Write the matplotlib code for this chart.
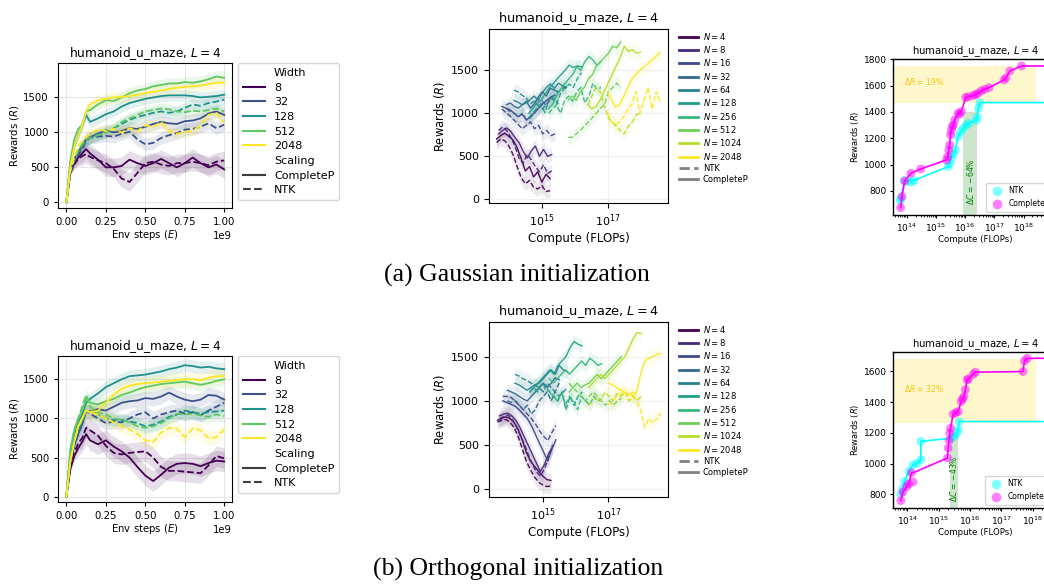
import numpy as np
import matplotlib
matplotlib.use("Agg")
import matplotlib.pyplot as plt
from matplotlib.lines import Line2D
from matplotlib import ticker

plt.rcParams['font.family'] = ['DejaVu Sans']
plt.rcParams['mathtext.fontset'] = 'dejavusans'

W, H = 1044, 584
fig = plt.figure(figsize=(W / 100, H / 100), dpi=100)


def px_box(l, t, r, b):
    return [l / W, 1 - b / H, (r - l) / W, (b - t) / H]


TITLE = r'humanoid_u_maze, $L = 4$'

# ---------------------------------------------------------------- data: left panels
widths = [8, 32, 128, 512, 2048]
width_colors = ['#440154', '#3b528b', '#21918c', '#5ec962', '#fde725']
env_steps_e9 = [0, .025, .05, .075, .1, .125, .15, .2, .25, .3, .35, .4, .45, .5,
                .55, .6, .65, .7, .75, .8, .85, .9, .95, 1.0]

gauss_cp = [
    [0, 430, 560, 640, 700, 760, 700, 610, 500, 500, 520, 610, 560, 520, 560, 620, 560, 500, 560, 640, 560, 500, 540, 470],
    [0, 450, 620, 720, 800, 900, 930, 980, 1030, 1000, 1020, 1060, 1050, 1080, 1120, 1150, 1130, 1120, 1160, 1170, 1200, 1270, 1300, 1250],
    [0, 550, 800, 950, 1100, 1250, 1150, 1200, 1260, 1300, 1370, 1420, 1450, 1480, 1500, 1520, 1530, 1530, 1530, 1520, 1500, 1510, 1520, 1540],
    [0, 600, 900, 1050, 1100, 1300, 1320, 1400, 1460, 1450, 1500, 1560, 1600, 1620, 1660, 1680, 1700, 1700, 1720, 1710, 1730, 1760, 1800, 1780],
    [0, 500, 800, 950, 1100, 1300, 1400, 1460, 1480, 1500, 1510, 1520, 1540, 1560, 1580, 1600, 1620, 1640, 1650, 1660, 1670, 1690, 1710, 1710],
]
gauss_ntk = [
    [0, 420, 540, 620, 660, 690, 650, 600, 560, 480, 340, 290, 420, 560, 580, 540, 520, 560, 560, 580, 560, 530, 580, 600],
    [0, 420, 580, 680, 760, 880, 920, 940, 950, 940, 980, 1010, 900, 830, 850, 920, 960, 990, 1040, 1050, 1080, 1130, 1060, 1110],
    [0, 450, 620, 720, 800, 880, 920, 960, 1000, 1060, 1120, 1180, 1220, 1250, 1280, 1300, 1280, 1300, 1350, 1400, 1380, 1420, 1440, 1470],
    [0, 450, 620, 740, 830, 900, 920, 960, 1000, 1060, 1150, 1200, 1250, 1300, 1320, 1340, 1330, 1300, 1290, 1310, 1300, 1320, 1340, 1300],
    [0, 450, 650, 800, 880, 930, 980, 1040, 1020, 1050, 1000, 1060, 1020, 1100, 1080, 1150, 1020, 980, 1000, 1020, 1100, 1250, 1280, 1140],
]
gauss_band = [130, 90, 80, 80, 80]

orth_cp = [
    [0, 350, 520, 620, 700, 800, 720, 670, 720, 640, 580, 500, 380, 270, 200, 280, 370, 420, 430, 420, 390, 430, 460, 450],
    [0, 450, 650, 800, 920, 1100, 1080, 1120, 1100, 1150, 1200, 1220, 1230, 1260, 1250, 1280, 1330, 1280, 1240, 1220, 1240, 1300, 1290, 1240],
    [0, 550, 800, 950, 1050, 1200, 1250, 1320, 1400, 1450, 1500, 1540, 1550, 1560, 1580, 1600, 1630, 1650, 1680, 1670, 1650, 1660, 1640, 1630],
    [0, 600, 850, 1000, 1100, 1250, 1200, 1180, 1220, 1250, 1300, 1330, 1370, 1400, 1420, 1440, 1450, 1460, 1470, 1450, 1430, 1450, 1480, 1500],
    [0, 450, 700, 900, 1000, 1100, 1080, 1100, 1200, 1300, 1380, 1420, 1440, 1450, 1460, 1470, 1480, 1490, 1500, 1500, 1490, 1520, 1540, 1540],
]
orth_ntk = [
    [0, 380, 560, 680, 750, 880, 850, 780, 650, 560, 540, 560, 570, 580, 500, 380, 330, 330, 320, 310, 300, 400, 520, 490],
    [0, 450, 650, 800, 950, 1100, 1060, 1000, 940, 960, 950, 1000, 1050, 1080, 1000, 1050, 1080, 1100, 1060, 1080, 1040, 1100, 1150, 1200],
    [0, 500, 700, 850, 950, 1080, 1100, 1050, 1000, 980, 980, 960, 940, 900, 920, 960, 1020, 1050, 1100, 1080, 1060, 1080, 1090, 1100],
    [0, 600, 850, 1000, 1150, 1300, 1150, 1080, 1050, 1000, 980, 950, 900, 880, 900, 940, 1000, 1060, 1050, 1060, 1040, 1020, 1050, 1030],
    [0, 450, 700, 900, 1000, 1100, 1080, 1050, 1000, 950, 900, 860, 800, 720, 700, 820, 880, 870, 760, 870, 850, 750, 760, 860],
]
orth_band = [130, 90, 80, 80, 90]

# ---------------------------------------------------------------- data: middle panels
N_values = [4, 8, 16, 32, 64, 128, 256, 512, 1024, 2048]
N_colors = plt.cm.viridis(np.linspace(0, 1, len(N_values)))
compute_log_start = [13.62, 13.68, 13.78, 13.92, 14.15, 14.6, 15.2, 15.8, 16.4, 17.0]
compute_log_end = [15.25, 15.3, 15.4, 15.5, 15.75, 16.2, 16.8, 17.4, 18.0, 18.6]

gauss_mid_cp = [
    [700, 740, 770, 730, 690, 600, 470, 330, 380, 260, 320, 200, 290, 240],
    [760, 800, 830, 790, 720, 660, 560, 480, 560, 620, 500, 580, 500, 520],
    [1080, 1060, 1040, 1000, 960, 990, 920, 960, 1010, 1060, 1110, 1150, 1190, 1210],
    [1100, 1120, 1080, 1060, 1100, 1140, 1060, 1110, 1190, 1250, 1200, 1290, 1270, 1250],
    [1150, 1130, 1100, 1120, 1160, 1200, 1150, 1240, 1300, 1340, 1290, 1350, 1320, 1300],
    [1000, 1060, 1120, 1150, 1220, 1290, 1340, 1400, 1450, 1500, 1560, 1530, 1550, 1540],
    [1050, 1100, 1200, 1280, 1340, 1400, 1450, 1540, 1500, 1600, 1660, 1620, 1560, 1600],
    [1150, 1200, 1150, 1250, 1300, 1400, 1450, 1550, 1600, 1650, 1700, 1780, 1760, 1830],
    [1100, 1050, 1080, 1150, 1250, 1350, 1450, 1550, 1650, 1780, 1720, 1740, 1700, 1710],
    [1250, 1150, 1070, 1100, 1200, 1300, 1400, 1450, 1500, 1540, 1580, 1620, 1660, 1710],
]
gauss_mid_ntk = [
    [660, 700, 680, 620, 520, 380, 250, 180, 220, 140, 120, 160, 90, 100],
    [800, 840, 800, 720, 620, 480, 420, 520, 460, 380, 320, 400, 300, 330],
    [1050, 1010, 970, 920, 870, 820, 860, 900, 820, 860, 760, 800, 740, 760],
    [1050, 1020, 1000, 960, 1000, 930, 950, 1000, 1060, 1140, 1090, 1180, 1150, 1110],
    [1270, 1250, 1210, 1180, 1110, 1140, 1090, 1050, 1100, 1160, 1210, 1250, 1290, 1310],
    [950, 1000, 1060, 1100, 1010, 1150, 1200, 1120, 1250, 1290, 1340, 1300, 1400, 1470],
    [1000, 1050, 1100, 1000, 1150, 1200, 1140, 1250, 1300, 1120, 1200, 1350, 1280, 1300],
    [720, 720, 760, 800, 850, 900, 950, 1000, 1060, 1100, 1250, 1300, 1350, 1300],
    [1100, 1200, 1300, 1250, 1100, 950, 900, 850, 800, 760, 850, 900, 980, 1000],
    [1000, 900, 870, 900, 960, 1050, 1100, 1250, 1000, 1150, 1300, 1050, 1250, 1140],
]
orth_mid_cp = [
    [780, 800, 820, 800, 760, 680, 560, 420, 320, 260, 200, 150, 110, 100],
    [830, 850, 860, 830, 780, 700, 600, 500, 400, 300, 200, 280, 400, 480],
    [1000, 980, 960, 940, 900, 850, 800, 720, 620, 520, 420, 320, 450, 560],
    [1120, 1100, 1080, 1050, 1020, 1000, 1050, 1100, 1150, 1200, 1150, 1200, 1260, 1240],
    [1200, 1180, 1150, 1120, 1150, 1180, 1200, 1250, 1300, 1350, 1300, 1400, 1350, 1330],
    [1100, 1150, 1200, 1250, 1300, 1350, 1300, 1400, 1450, 1500, 1600, 1670, 1640, 1620],
    [1250, 1200, 1250, 1300, 1350, 1300, 1350, 1400, 1450, 1400, 1480, 1450, 1400, 1420],
    [1100, 1150, 1200, 1150, 1180, 1200, 1250, 1300, 1250, 1300, 1350, 1400, 1450, 1500],
    [1150, 1200, 1250, 1300, 1250, 1300, 1350, 1400, 1450, 1500, 1600, 1700, 1770, 1760],
    [1200, 1180, 1150, 1120, 1100, 1080, 1060, 1100, 1300, 1450, 1480, 1500, 1520, 1540],
]
orth_mid_ntk = [
    [760, 780, 790, 760, 700, 600, 460, 320, 220, 140, 80, 50, 30, 40],
    [800, 820, 840, 800, 720, 620, 520, 400, 290, 200, 150, 230, 360, 500],
    [1050, 1050, 1040, 1000, 950, 900, 850, 800, 740, 660, 600, 550, 640, 720],
    [1000, 980, 1000, 950, 900, 950, 850, 900, 1000, 1050, 1100, 1000, 1100, 1200],
    [1300, 1280, 1250, 1230, 1200, 1180, 1150, 1100, 1200, 1150, 1100, 1050, 1100, 1150],
    [1100, 1150, 1100, 1200, 1150, 1100, 1050, 1000, 1100, 900, 1050, 950, 1050, 1100],
    [1100, 1050, 1000, 1100, 950, 1050, 1000, 900, 1050, 1000, 950, 1050, 1000, 1020],
    [1200, 1150, 1100, 1050, 1000, 1050, 1100, 1050, 1000, 950, 1000, 950, 1000, 1030],
    [950, 1000, 1050, 1000, 1100, 1050, 1000, 1080, 1050, 1100, 1000, 1050, 1000, 1050],
    [950, 1000, 1050, 1080, 1100, 1050, 1100, 1000, 900, 700, 800, 750, 800, 860],
]
mid_band = 80

# ---------------------------------------------------------------- data: right panels
g_ntk_logc = [13.78, 13.80, 13.92, 14.05, 14.17, 14.25, 15.42, 15.47, 15.53, 15.60, 15.66,
              15.76, 15.85, 15.93, 16.05, 16.12, 16.38, 16.42, 16.45, 16.50]
g_ntk_r = [725, 745, 878, 872, 868, 880, 985, 1010, 1048, 1080, 1111,
           1213, 1250, 1276, 1300, 1314, 1335, 1360, 1428, 1471]
g_cp_logc = [13.79, 13.84, 13.93, 14.14, 14.48, 15.36, 15.40, 15.44, 15.47, 15.50, 15.53,
             15.56, 15.60, 15.64, 15.76, 15.80, 15.87, 16.02, 16.10, 16.27, 16.35, 16.44,
             16.55, 16.67, 16.82, 17.33, 17.40, 17.53, 17.93]
g_cp_r = [673, 757, 876, 934, 967, 1035, 1060, 1110, 1149, 1225, 1260,
          1289, 1300, 1339, 1390, 1380, 1403, 1509, 1515, 1524, 1530, 1542,
          1560, 1572, 1585, 1643, 1660, 1711, 1749]
g_delta_R = (1470, 1751, 18.42, r'$\Delta R$ = 19%')
g_delta_C = (15.94, 16.42, 1400, r'$\Delta C$ = $-$64%')

o_ntk_logc = [13.79, 13.85, 13.91, 14.05, 14.18, 14.30, 14.43, 14.43, 15.40, 15.51, 15.58, 15.62, 15.65]
o_ntk_r = [802, 840, 884, 950, 992, 1000, 1025, 1144, 1165, 1176, 1200, 1219, 1273]
o_cp_logc = [13.79, 13.86, 13.98, 14.04, 14.13, 14.18, 15.28, 15.30, 15.33, 15.35, 15.38, 15.46,
             15.55, 15.62, 15.72, 15.76, 15.81, 15.85, 15.91, 15.95, 16.10, 16.17, 17.69, 17.74, 17.83]
o_cp_r = [759, 815, 850, 867, 940, 880, 1036, 1101, 1150, 1198, 1230, 1321,
          1330, 1338, 1403, 1420, 1436, 1480, 1544, 1550, 1580, 1594, 1598, 1667, 1684]
o_delta_R = (1264, 1682, 18.11, r'$\Delta R$ = 32%')
o_delta_C = (15.36, 15.61, 1197, r'$\Delta C$ = $-$43%')

right_xticks = [1e14, 1e15, 1e16, 1e17, 1e18]


# ---------------------------------------------------------------- drawing helpers
def left_panel(box, cp, ntk, band, ylim, leg_top):
    ax = fig.add_axes(box)
    x = np.array(env_steps_e9) * 1e9
    ramp = np.minimum(1.0, np.array(env_steps_e9) / 0.1)
    for i, w in enumerate(widths):
        c = width_colors[i]
        for vals, ls in ((cp[i], '-'), (ntk[i], '--')):
            v = np.array(vals, float)
            ax.fill_between(x, v - band[i] * ramp, v + band[i] * ramp, color=c, alpha=0.13, lw=0)
            ax.plot(x, v, color=c, ls=ls, lw=1.3)
    ax.set_xlim(-0.053e9, 1.049e9)
    ax.set_ylim(*ylim)
    ax.set_xticks([0, 0.25e9, 0.5e9, 0.75e9, 1.0e9])
    ax.set_yticks([0, 500, 1000, 1500])
    ax.grid(color='#e6e6e6', lw=0.8)
    ax.set_axisbelow(True)
    ax.tick_params(labelsize=7.3, length=3, width=0.8)
    ax.xaxis.get_offset_text().set_fontsize(7.3)
    ax.set_title(TITLE, fontsize=8.7, pad=4)
    ax.set_xlabel(r'Env steps ($E$)', fontsize=7.3, labelpad=1)
    ax.set_ylabel(r'Rewards ($R$)', fontsize=7.3, labelpad=2)
    handles = [Line2D([], [], color='none', label='Width')]
    for i, w in enumerate(widths):
        handles.append(Line2D([], [], color=width_colors[i], lw=1.5, label=str(w)))
    handles.append(Line2D([], [], color='none', label='Scaling'))
    handles.append(Line2D([], [], color='#3d3d3d', lw=1.5, ls='-', label='CompleteP'))
    handles.append(Line2D([], [], color='#3d3d3d', lw=1.5, ls='--', label='NTK'))
    ax.legend(handles=handles, loc='upper left', bbox_to_anchor=(238 / W, 1 - leg_top / H),
              bbox_transform=fig.transFigure, borderaxespad=0, fontsize=8,
              handlelength=2.0, labelspacing=0.42, borderpad=0.45)
    return ax


def mid_panel(box, cp, ntk, xlim, ylim, leg_top):
    ax = fig.add_axes(box)
    ax.set_xscale('log')
    for i, n in enumerate(N_values):
        c = N_colors[i]
        x = np.logspace(compute_log_start[i], compute_log_end[i], len(cp[i]))
        for vals, ls in ((cp[i], '-'), (ntk[i], '--')):
            v = np.array(vals, float)
            ax.fill_between(x, v - mid_band, v + mid_band, color=c, alpha=0.09, lw=0)
            ax.plot(x, v, color=c, ls=ls, lw=1.0, alpha=0.95)
    ax.set_xlim(10 ** xlim[0], 10 ** xlim[1])
    ax.set_ylim(*ylim)
    ax.set_xticks([1e15, 1e17])
    ax.xaxis.set_minor_locator(ticker.NullLocator())
    ax.set_yticks([0, 500, 1000, 1500])
    ax.grid(color='#f0f0f0', lw=0.8)
    ax.set_axisbelow(True)
    ax.tick_params(labelsize=8, length=3.5, width=0.8)
    ax.set_title(TITLE, fontsize=9.3, pad=5)
    ax.set_xlabel('Compute (FLOPs)', fontsize=8.5, labelpad=2)
    ax.set_ylabel(r'Rewards ($R$)', fontsize=8.3, labelpad=3)
    handles = [Line2D([], [], color=N_colors[i], lw=2, label=r'$N = %d$' % n)
               for i, n in enumerate(N_values)]
    handles.append(Line2D([], [], color='#808080', lw=2, ls='--', label='NTK'))
    handles.append(Line2D([], [], color='#808080', lw=2, ls='-', label='CompleteP'))
    ax.legend(handles=handles, loc='upper left', bbox_to_anchor=(677 / W, 1 - leg_top / H),
              bbox_transform=fig.transFigure, borderaxespad=0, fontsize=6, frameon=False,
              handlelength=2.3, handletextpad=0.6, labelspacing=0.28, borderpad=0.2)
    return ax


def frontier(logc, r, xmax):
    order = np.argsort(logc, kind='stable')
    xs = 10 ** np.array(logc, float)[order]
    rs = np.maximum.accumulate(np.array(r, float)[order])
    return np.append(xs, xmax), np.append(rs, rs[-1])


def right_panel(box, ntk_x, ntk_r, cp_x, cp_r, xlim, ylim, yticks, dR, dC, dR_text_y, dC_text_y, leg_xy):
    ax = fig.add_axes(box)
    ax.set_xscale('log')
    x0, x1 = 10 ** xlim[0], 10 ** xlim[1]
    # delta R band
    ax.fill_between([x0, 10 ** dR[2]], dR[0], dR[1], color='#ffd700', alpha=0.2, lw=0, zorder=0)
    ax.text(10 ** 13.9, dR_text_y, dR[3], color='#f2c40f', fontsize=5.5, va='center', ha='left')
    # delta C band
    ax.fill_between([10 ** dC[0], 10 ** dC[1]], ylim[0], dC[2], color='green', alpha=0.2, lw=0, zorder=0)
    ax.text(10 ** ((dC[0] + dC[1]) / 2), dC_text_y, dC[3], color='green', fontsize=5.5,
            rotation=90, va='center', ha='center')
    fx, fr = frontier(ntk_x, ntk_r, x1 * 2)
    ax.plot(fx, fr, color='cyan', lw=1.2, zorder=2)
    fx, fr = frontier(cp_x, cp_r, x1 * 2)
    ax.plot(fx, fr, color='magenta', lw=1.2, zorder=4)
    ax.scatter(10 ** np.array(ntk_x), ntk_r, s=40, color='cyan', alpha=0.5, edgecolors='none', zorder=3)
    ax.scatter(10 ** np.array(cp_x), cp_r, s=40, color='magenta', alpha=0.5, edgecolors='none', zorder=5)
    ax.set_xlim(x0, x1)
    ax.set_ylim(*ylim)
    ax.set_yticks(yticks)
    ax.set_xticks(right_xticks)
    ax.xaxis.set_minor_locator(ticker.LogLocator(base=10, subs=np.arange(2, 10), numticks=20))
    ax.xaxis.set_minor_formatter(ticker.NullFormatter())
    ax.tick_params(labelsize=6.5, length=2.5, width=0.8, pad=2)
    ax.tick_params(which='minor', length=1.5, width=0.6)
    for s in ax.spines.values():
        s.set_linewidth(1.0)
    ax.set_title(TITLE, fontsize=7.3, pad=3)
    ax.set_xlabel('Compute (FLOPs)', fontsize=6.2, labelpad=1)
    ax.set_ylabel(r'Rewards ($R$)', fontsize=6, labelpad=2)
    handles = [Line2D([], [], marker='o', ls='none', color='cyan', alpha=0.5, ms=7, mec='none', label='NTK'),
               Line2D([], [], marker='o', ls='none', color='magenta', alpha=0.5, ms=7, mec='none', label='CompleteP')]
    ax.legend(handles=handles, loc='lower left', bbox_to_anchor=(leg_xy[0] / W, 1 - leg_xy[1] / H),
              bbox_transform=fig.transFigure, borderaxespad=0, fontsize=5.5,
              handletextpad=0.4, borderpad=0.5, labelspacing=0.5)
    return ax


# ---------------------------------------------------------------- top row (Gaussian)
left_panel(px_box(58, 63, 232, 208), gauss_cp, gauss_ntk, gauss_band, (-82, 1993), 63)
mid_panel(px_box(489, 29, 668, 203), gauss_mid_cp, gauss_mid_ntk, (13.39, 18.84), (-43, 1980), 29)
right_panel(px_box(893, 59, 1058, 215), g_ntk_logc, g_ntk_r, g_cp_logc, g_cp_r,
            (13.53, 19.18), (617, 1802), [800, 1000, 1200, 1400, 1600, 1800],
            g_delta_R, g_delta_C, 1630, 870, (986, 212))

# ---------------------------------------------------------------- bottom row (Orthogonal)
left_panel(px_box(58, 356, 232, 502), orth_cp, orth_ntk, orth_band, (-68, 1798), 356)
mid_panel(px_box(489, 322, 668, 497), orth_mid_cp, orth_mid_ntk, (13.36, 18.82), (-87, 1891), 322)
right_panel(px_box(893, 352, 1058, 508), o_ntk_logc, o_ntk_r, o_cp_logc, o_cp_r,
            (13.54, 18.81), (711, 1725), [800, 1000, 1200, 1400, 1600],
            o_delta_R, o_delta_C, 1490, 900, (985, 505))

# ---------------------------------------------------------------- captions
fig.text(517 / W, 1 - 275 / H, '(a) Gaussian initialization', ha='center', va='center',
         family='Liberation Serif', fontsize=18.5)
fig.text(518 / W, 1 - 569 / H, '(b) Orthogonal initialization', ha='center', va='center',
         family='Liberation Serif', fontsize=18.5)

fig.savefig('out.png', dpi=100)
